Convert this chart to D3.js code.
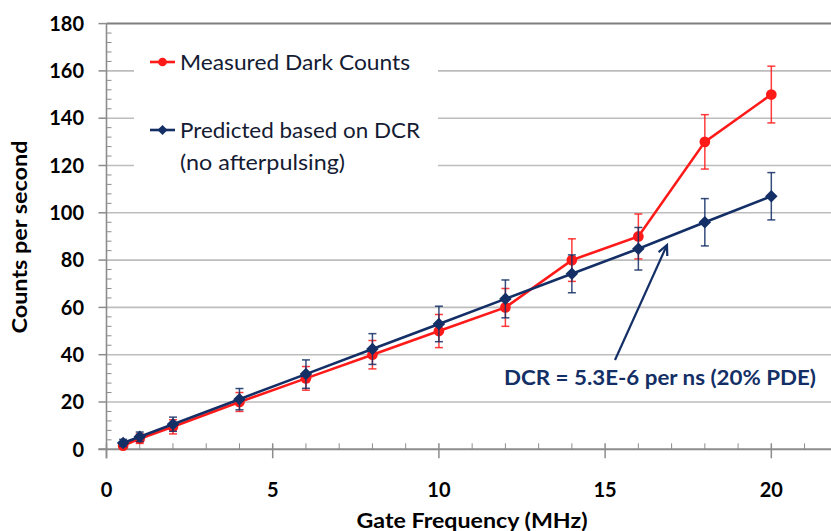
<!DOCTYPE html>
<html>
<head>
<meta charset="utf-8">
<script src="https://cdn.jsdelivr.net/npm/d3@7"></script>
<style>
  html, body { margin: 0; padding: 0; background: #fff; }
  svg { display: block; }
</style>
</head>
<body>
<svg id="chart" width="831" height="531"></svg>
<script>
// ---- data ----
const freq = [0.5, 1, 2, 4, 6, 8, 10, 12, 14, 16, 18, 20];
const measured = [1.5, 4.5, 9.5, 20, 30, 40, 50, 60, 80, 90, 130, 150];
const measuredErr = [1, 2, 3, 4, 5, 6, 7, 8, 9, 9.5, 11.5, 12];
const predicted = [2.7, 5.3, 10.6, 21.2, 31.8, 42.4, 53, 63.6, 74.2, 84.8, 96, 107];
const predictedErr = [1.5, 2, 3, 4.5, 6, 6.5, 7.5, 8, 8, 9, 10, 10];
const xTicks = [0, 5, 10, 15, 20];
const yTicks = [0, 20, 40, 60, 80, 100, 120, 140, 160, 180];
const seriesNames = ["Measured Dark Counts", "Predicted based on DCR", "(no afterpulsing)"];
const annotationText = "DCR = 5.3E-6 per ns (20% PDE)";
const xTitle = "Gate Frequency (MHz)";
const yTitle = "Counts per second";

// ---- styles ----
const RED = "#ff1a1a";
const BLUE = "#142f66";
const TEXT = "#141b33";
const GRID = "#bdbdbd";
const AXIS = "#8c8c8c";
const FONT = "Lato, 'Open Sans', sans-serif";

const svg = d3.select("#chart");
const x = d3.scaleLinear().domain([0, 22]).range([106.5, 837.8]);
const y = d3.scaleLinear().domain([0, 180]).range([449.3, 23.6]);

// helper: text stretched to a measured width
function fitText(sel, w) {
  return sel.attr("textLength", w).attr("lengthAdjust", "spacingAndGlyphs");
}

// gridlines
svg.append("g").selectAll("line").data(yTicks.filter(t => t > 0)).join("line")
  .attr("x1", x(0)).attr("x2", 831)
  .attr("y1", d => y(d)).attr("y2", d => y(d))
  .attr("stroke", d => d === 180 ? "#7f7f7f" : GRID)
  .attr("stroke-width", d => d === 180 ? 2 : 1.6);

// y minor ticks (inside)
svg.append("g").selectAll("line").data(d3.range(0, 181, 4).filter(v => v % 20 !== 0)).join("line")
  .attr("x1", x(0)).attr("x2", x(0) + 5)
  .attr("y1", d => y(d)).attr("y2", d => y(d))
  .attr("stroke", AXIS).attr("stroke-width", 1);

// y major ticks outside
svg.append("g").selectAll("line").data(yTicks).join("line")
  .attr("x1", x(0) - 8).attr("x2", x(0))
  .attr("y1", d => y(d)).attr("y2", d => y(d))
  .attr("stroke", AXIS).attr("stroke-width", 1.5);

// x minor ticks (inside)
svg.append("g").selectAll("line").data(d3.range(1, 22).filter(v => v % 5 !== 0)).join("line")
  .attr("x1", d => x(d)).attr("x2", d => x(d))
  .attr("y1", y(0) - 6).attr("y2", y(0))
  .attr("stroke", AXIS).attr("stroke-width", 1);
// x major ticks crossing
svg.append("g").selectAll("line").data(xTicks).join("line")
  .attr("x1", d => x(d)).attr("x2", d => x(d))
  .attr("y1", y(0) - 6).attr("y2", y(0) + 9)
  .attr("stroke", AXIS).attr("stroke-width", 1.5);

// axis lines
svg.append("line").attr("x1", x(0)).attr("x2", x(0)).attr("y1", y(180)).attr("y2", y(0) + 9)
  .attr("stroke", AXIS).attr("stroke-width", 1.6);
svg.append("line").attr("x1", x(0) - 8).attr("x2", 831).attr("y1", y(0)).attr("y2", y(0))
  .attr("stroke", AXIS).attr("stroke-width", 2);

// tick labels
svg.append("g").selectAll("text").data(yTicks).join("text")
  .attr("x", 84).attr("y", d => y(d)).attr("dy", "0.36em")
  .attr("text-anchor", "end").attr("font-family", FONT).attr("font-weight", "bold")
  .attr("font-size", 20).attr("fill", "#000").text(d => d);
svg.append("g").selectAll("text").data(xTicks).join("text")
  .attr("x", d => x(d)).attr("y", 497)
  .attr("text-anchor", "middle").attr("font-family", FONT).attr("font-weight", "bold")
  .attr("font-size", 20).attr("fill", "#000").text(d => d);

// axis titles
fitText(svg.append("text").attr("transform", `translate(27,237) rotate(-90)`)
  .attr("text-anchor", "middle").attr("font-family", FONT).attr("font-weight", "bold")
  .attr("font-size", 20).attr("fill", "#000").text(yTitle), 193);
fitText(svg.append("text").attr("x", 472).attr("y", 528)
  .attr("text-anchor", "middle").attr("font-family", FONT).attr("font-weight", "bold")
  .attr("font-size", 21).attr("fill", "#000").text(xTitle), 231);

// legend background
svg.append("rect").attr("x", 134).attr("y", 32).attr("width", 304).attr("height", 166).attr("fill", "#fff");

// series
function drawSeries(vals, errs, color, marker) {
  const g = svg.append("g");
  const pts = freq.map((f, i) => ({ f, v: vals[i], e: errs[i] }));
  // error bars
  const eb = g.append("g").selectAll("g").data(pts).join("g");
  eb.append("line").attr("x1", d => x(d.f)).attr("x2", d => x(d.f))
    .attr("y1", d => y(d.v - d.e)).attr("y2", d => y(d.v + d.e))
    .attr("stroke", color).attr("stroke-width", 1.5).attr("opacity", 0.85);
  [1, -1].forEach(s => {
    eb.append("line").attr("x1", d => x(d.f) - 4).attr("x2", d => x(d.f) + 4)
      .attr("y1", d => y(d.v + s * d.e)).attr("y2", d => y(d.v + s * d.e))
      .attr("stroke", color).attr("stroke-width", 1.5).attr("opacity", 0.85);
  });
  g.append("path").datum(pts)
    .attr("d", d3.line().x(d => x(d.f)).y(d => y(d.v)))
    .attr("fill", "none").attr("stroke", color).attr("stroke-width", 2.6);
  const sym = marker === "circle" ? d3.symbol(d3.symbolCircle, 90) : d3.symbol(d3.symbolDiamond2, 100);
  g.selectAll("path.m").data(pts).join("path").attr("class", "m")
    .attr("d", sym).attr("transform", d => `translate(${x(d.f)},${y(d.v)})`)
    .attr("fill", color);
}
drawSeries(measured, measuredErr, RED, "circle");
drawSeries(predicted, predictedErr, BLUE, "diamond");

// legend
function legendEntry(yy, color, marker) {
  svg.append("line").attr("x1", 150).attr("x2", 175).attr("y1", yy).attr("y2", yy)
    .attr("stroke", color).attr("stroke-width", 2.6);
  const sym = marker === "circle" ? d3.symbol(d3.symbolCircle, 60) : d3.symbol(d3.symbolDiamond2, 65);
  svg.append("path").attr("d", sym)
    .attr("transform", `translate(162.5,${yy})`)
    .attr("fill", color);
}
legendEntry(62, RED, "circle");
legendEntry(130, BLUE, "diamond");
const legText = svg.append("g").attr("font-family", FONT).attr("font-size", 21).attr("fill", TEXT);
fitText(legText.append("text").attr("x", 180).attr("y", 70).text(seriesNames[0]), 230);
fitText(legText.append("text").attr("x", 180).attr("y", 138).text(seriesNames[1]), 240);
fitText(legText.append("text").attr("x", 180).attr("y", 170).text(seriesNames[2]), 165);

// annotation arrow
const arrowFrom = [615, 360], arrowTo = [667, 245];
svg.append("line").attr("x1", arrowFrom[0]).attr("y1", arrowFrom[1])
  .attr("x2", arrowTo[0]).attr("y2", arrowTo[1])
  .attr("stroke", BLUE).attr("stroke-width", 2.2);
{
  const ang = Math.atan2(arrowTo[1] - arrowFrom[1], arrowTo[0] - arrowFrom[0]);
  const L = 11, spread = 0.45;
  const p1 = [arrowTo[0] - L * Math.cos(ang - spread), arrowTo[1] - L * Math.sin(ang - spread)];
  const p2 = [arrowTo[0] - L * Math.cos(ang + spread), arrowTo[1] - L * Math.sin(ang + spread)];
  svg.append("path").attr("d", `M${p1}L${arrowTo}L${p2}`)
    .attr("fill", "none").attr("stroke", BLUE).attr("stroke-width", 2.2);
}
fitText(svg.append("text").attr("x", 504).attr("y", 385)
  .attr("font-family", FONT).attr("font-weight", "bold").attr("font-size", 21)
  .attr("fill", BLUE).text(annotationText), 312);
</script>
</body>
</html>
